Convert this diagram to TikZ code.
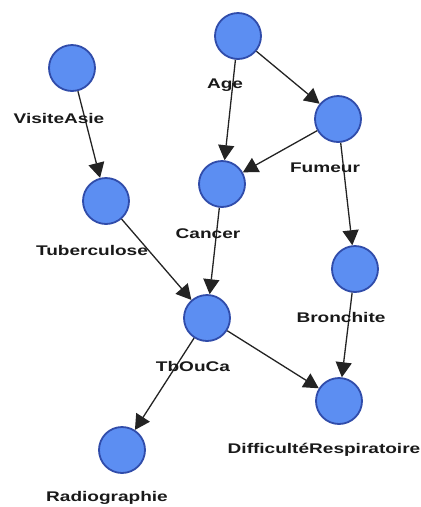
\documentclass[tikz,border=0pt]{standalone}
\usepackage{fontspec}
\setmainfont{Liberation Sans}
\usetikzlibrary{arrows.meta,calc}
\definecolor{nodefill}{RGB}{92,142,242}
\definecolor{nodeedge}{RGB}{48,76,170}
\definecolor{edgecol}{RGB}{35,35,35}
\tikzset{
  bnode/.style={circle,fill=nodefill,draw=nodeedge,line width=1.8pt,minimum size=46pt,inner sep=0pt},
  lab/.style={font=\fontsize{14pt}{16pt}\selectfont\bfseries,text=black!90,inner sep=0pt,xscale=1.36},
  edge/.style={draw=edgecol,line width=1.3pt,-{Triangle[length=15pt,width=16pt]}}
}
\begin{document}
\begin{tikzpicture}[x=1pt,y=-1pt]
\useasboundingbox (0,0) rectangle (421,507);
\node[bnode] (va) at (72,68) {};
\node[bnode] (tb) at (106,201) {};
\node[bnode] (age) at (238,36) {};
\node[bnode] (fu) at (338,119) {};
\node[bnode] (ca) at (222,184) {};
\node[bnode] (br) at (355,269) {};
\node[bnode] (tc) at (207,318) {};
\node[bnode] (dr) at (339,401) {};
\node[bnode] (ra) at (122,450) {};
\draw[edge] (va) -- (tb);
\draw[edge] (age) -- (ca);
\draw[edge] (age) -- (fu);
\draw[edge] (fu) -- (ca);
\draw[edge] (fu) -- (br);
\draw[edge] (tb) -- (tc);
\draw[edge] (ca) -- (tc);
\draw[edge] (tc) -- (ra);
\draw[edge] (tc) -- (dr);
\draw[edge] (br) -- (dr);
\node[lab] (lva) at ($(va)+(-13,50)$) {VisiteAsie};
\node[lab] (ltb) at ($(tb)+(-14,49)$) {Tuberculose};
\node[lab] (lage) at ($(age)+(-13,49)$) {Age};
\node[lab] (lfu) at ($(fu)+(-13,49)$) {Fumeur};
\node[lab] (lca) at ($(ca)+(-14,50)$) {Cancer};
\node[lab] (lbr) at ($(br)+(-14,48)$) {Bronchite};
\node[lab] (ltc) at ($(tc)+(-14,48)$) {TbOuCa};
\node[lab] (ldr) at ($(dr)+(-15,49)$) {DifficultéRespiratoire};
\node[lab] (lra) at ($(ra)+(-15,48)$) {Radiographie};
\end{tikzpicture}
\end{document}
